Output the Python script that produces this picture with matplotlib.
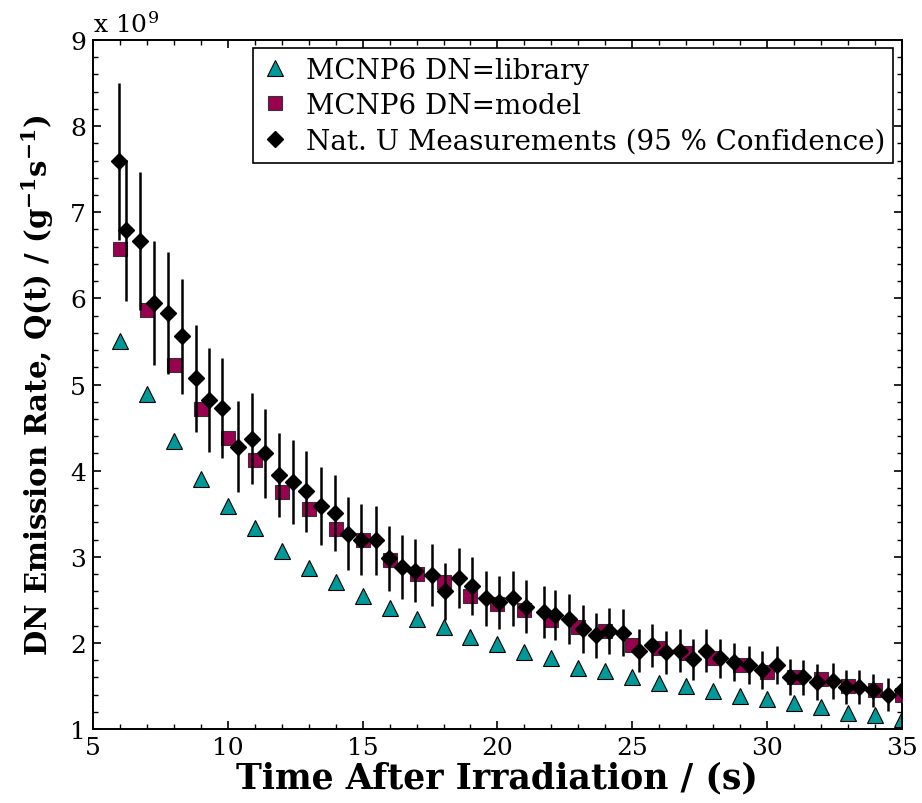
import numpy as np
import matplotlib.pyplot as plt
from matplotlib.ticker import MultipleLocator

plt.rcParams['font.family'] = ['DejaVu Serif']
plt.rcParams['mathtext.fontset'] = 'dejavuserif'

# MCNP6 values at whole seconds (units of 1e9)
t_sim = np.arange(6, 36)
q_library = [5.50, 4.89, 4.34, 3.90, 3.59, 3.33, 3.07, 2.87, 2.71, 2.54,
             2.40, 2.28, 2.19, 2.07, 1.99, 1.90, 1.83, 1.71, 1.67, 1.60,
             1.54, 1.50, 1.44, 1.38, 1.35, 1.30, 1.25, 1.19, 1.16, 1.12]
q_model = [6.57, 5.86, 5.23, 4.71, 4.38, 4.12, 3.75, 3.55, 3.32, 3.19,
           2.96, 2.80, 2.71, 2.55, 2.45, 2.38, 2.27, 2.18, 2.14, 1.98,
           1.94, 1.88, 1.82, 1.74, 1.66, 1.60, 1.58, 1.50, 1.45, 1.40]

# natural uranium measurements (units of 1e9) with 95 % confidence half-widths
t_meas = [5.96, 6.22, 6.74, 7.26, 7.79, 8.30, 8.81, 9.31, 9.80, 10.38,
          10.88, 11.37, 11.90, 12.40, 12.89, 13.47, 13.99, 14.46, 14.95, 15.48,
          15.97, 16.47, 16.96, 17.58, 18.07, 18.57, 19.05, 19.58, 20.05, 20.57,
          21.06, 21.72, 22.14, 22.67, 23.16, 23.66, 24.15, 24.67, 25.26, 25.75,
          26.25, 26.77, 27.27, 27.73, 28.26, 28.78, 29.33, 29.83, 30.36, 30.85,
          31.35, 31.84, 32.44, 32.94, 33.43, 33.93, 34.50, 35.00]
q_meas = [7.59, 6.79, 6.67, 5.95, 5.83, 5.56, 5.07, 4.82, 4.73, 4.28,
          4.37, 4.20, 3.95, 3.87, 3.76, 3.59, 3.51, 3.27, 3.20, 3.19,
          2.98, 2.88, 2.84, 2.79, 2.60, 2.75, 2.66, 2.52, 2.47, 2.52,
          2.42, 2.36, 2.32, 2.28, 2.16, 2.09, 2.14, 2.12, 1.91, 1.97,
          1.89, 1.91, 1.81, 1.91, 1.82, 1.78, 1.74, 1.69, 1.74, 1.60,
          1.60, 1.55, 1.56, 1.49, 1.49, 1.45, 1.40, 1.45]
q_err = [0.91, 0.82, 0.80, 0.72, 0.71, 0.67, 0.62, 0.60, 0.58, 0.53,
         0.53, 0.52, 0.49, 0.49, 0.47, 0.45, 0.44, 0.42, 0.41, 0.40,
         0.38, 0.37, 0.37, 0.36, 0.33, 0.35, 0.34, 0.32, 0.31, 0.32,
         0.31, 0.30, 0.29, 0.29, 0.28, 0.26, 0.27, 0.27, 0.25, 0.25,
         0.25, 0.25, 0.24, 0.25, 0.23, 0.22, 0.22, 0.22, 0.22, 0.21,
         0.20, 0.21, 0.21, 0.20, 0.20, 0.19, 0.19, 0.17]

fig = plt.figure(figsize=(9.22, 8.04), dpi=100)
ax = fig.add_axes([0.101, 0.092, 0.877, 0.857])

ax.plot(t_sim, q_library, '^', ms=12, color='#009999', mec='black', mew=0.8,
        label='MCNP6 DN=library', zorder=2)
ax.plot(t_sim, q_model, 's', ms=10.5, color='#990050', mec='#333333', mew=0.8,
        label='MCNP6 DN=model', zorder=3)
ax.errorbar(t_meas, q_meas, yerr=q_err, fmt='none', ecolor='black',
            elinewidth=1.8, capsize=0, zorder=4)
ax.plot(t_meas, q_meas, 'D', ms=8, color='black',
        label='Nat. U Measurements (95 % Confidence)', zorder=5)

ax.set_xlim(5, 35)
ax.set_ylim(1, 9)
ax.xaxis.set_major_locator(MultipleLocator(5))
ax.xaxis.set_minor_locator(MultipleLocator(1))
ax.yaxis.set_major_locator(MultipleLocator(1))
ax.yaxis.set_minor_locator(MultipleLocator(0.2))
ax.tick_params(which='both', direction='in', top=True, right=True, labelsize=18)
ax.tick_params(which='major', length=6, width=1.2, pad=5)
ax.tick_params(which='minor', length=3.5, width=1)
for s in ax.spines.values():
    s.set_linewidth(1.4)

ax.text(0.0, 1.004, r'x 10$^{9}$', transform=ax.transAxes, fontsize=18,
        ha='left', va='bottom')

ax.set_xlabel('Time After Irradiation / (s)', fontsize=25, fontweight='bold',
              labelpad=1)
ax.set_ylabel(r'DN Emission Rate, Q(t) / (g$^{\mathbf{-1}}$s$^{\mathbf{-1}}$)',
              fontsize=21, fontweight='bold', labelpad=10)

leg = ax.legend(loc='upper right', fontsize=20, frameon=True, fancybox=False,
                edgecolor='black', framealpha=1, handlelength=1.0,
                handletextpad=0.6, borderaxespad=0.3, borderpad=0.3,
                labelspacing=0.3)
leg.get_frame().set_linewidth(1.2)

fig.savefig('out.png', dpi=100)
